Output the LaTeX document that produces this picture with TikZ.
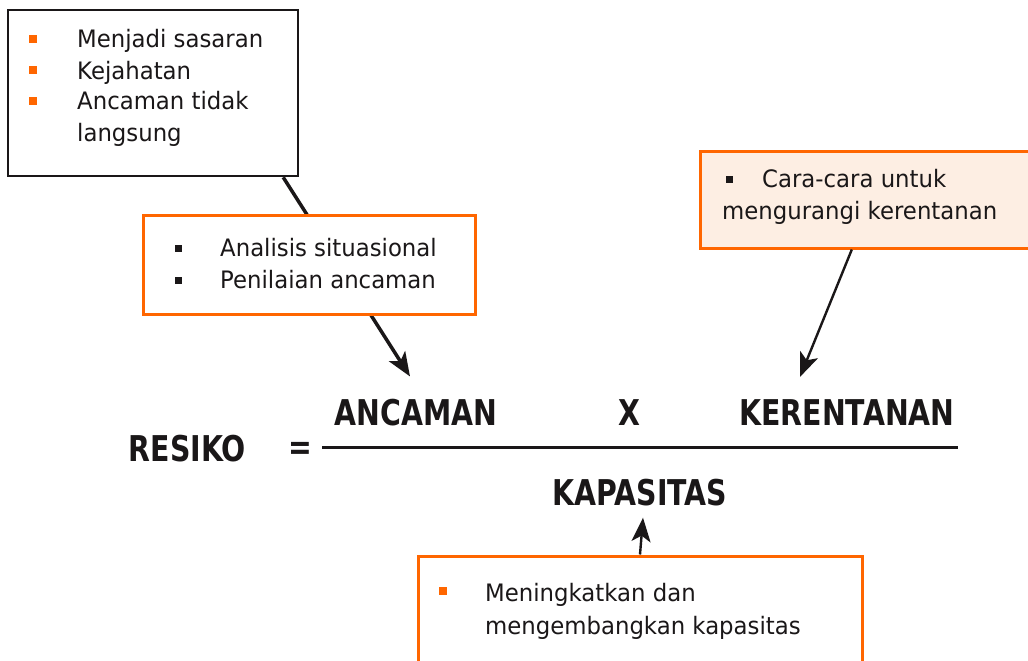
\documentclass[tikz,border=0pt]{standalone}
\usepackage{fontspec}
\setmainfont{DejaVu Sans}
\newfontfamily\headfont{DejaVu Sans}[FakeStretch=0.8]
\newfontfamily\bodyfont{DejaVu Sans}[FakeStretch=0.95]
\usetikzlibrary{arrows.meta,calc}
\definecolor{orng}{HTML}{FF6600}
\definecolor{peach}{HTML}{FDEEE3}
\definecolor{ink}{HTML}{1A1718}
\tikzset{
  line/.style={anchor=base west, inner sep=0pt, text=ink, font=\bodyfont\fontsize{24}{28}\selectfont},
  head/.style={anchor=base, inner sep=0pt, text=ink, font=\headfont\bfseries\fontsize{35.5}{40}\selectfont},
  obul/.style={fill=orng, minimum size=7.5pt, inner sep=0pt},
  kbul/.style={fill=ink, minimum size=7pt, inner sep=0pt},
  blackbox/.style={draw=ink, line width=2.6pt, fill=white, inner sep=0pt},
  orbox/.style={draw=orng, line width=3pt, fill=white, inner sep=0pt},
  peachbox/.style={orbox, fill=peach},
  arr/.style={draw=ink, -{Stealth[length=24pt, width=19pt, inset=6pt]}},
}
\begin{document}
\begin{tikzpicture}[x=1pt,y=-1pt]
\useasboundingbox (0,0) rectangle (1028,661);
\clip (0,0) rectangle (1028,661);

% box 1 (black)
\node[blackbox, minimum width=290pt, minimum height=166pt] (b1) at (153,93) {};
\node[obul] (b1p1) at (33,39) {};
\node[obul] (b1p2) at (33,70) {};
\node[obul] (b1p3) at (33,101) {};
\node[line] (b1t1) at (77,48) {Menjadi sasaran};
\node[line] (b1t2) at (77,79) {Kejahatan};
\node[line] (b1t3) at (77,110) {Ancaman tidak};
\node[line] (b1t4) at (77,141) {langsung};

% formula
\node[head] (resiko) at (187.5,461.5) {RESIKO};
\node[head, anchor=center] (eq) at (300,451) {=};
\coordinate (fl) at (322,447);
\coordinate (fr) at (958,447);
\draw[ink, line width=3pt] (fl) -- (fr);
\node[head] (ancaman) at (416,425) {ANCAMAN};
\node[head] (kali) at (629.5,425) {X};
\node[head] (kerentanan) at (847,425) {KERENTANAN};
\node[head] (kapasitas) at (640,505) {KAPASITAS};

% arrow from box 1 to ANCAMAN (behind box 2)
\coordinate (a1end) at ($(ancaman.north)+(-6,-22)$);
\draw[arr, line width=3.5pt] ($(b1.south west)!0.945!(b1.south east)$) -- (a1end);

% box 2
\node[orbox, minimum width=332pt, minimum height=99pt] (b2) at (309,264.5) {};
\node[kbul] (b2p1) at (178,248) {};
\node[kbul] (b2p2) at (178,280) {};
\node[line] (b2t1) at (220,256) {Analisis situasional};
\node[line] (b2t2) at (220,288) {Penilaian ancaman};

% box 3
\node[peachbox, minimum width=340pt, minimum height=97pt] (b3) at (870,199.5) {};
\node[kbul] (b3p1) at (729,179) {};
\node[line] (b3t1) at (762,187) {Cara-cara untuk};
\node[line] (b3t2) at (722,219) {mengurangi kerentanan};
\coordinate (a2end) at ($(kerentanan.north)+(-47,-22)$);
\draw[arr, line width=2.4pt] ($(b3.south west)!0.447!(b3.south east)$) -- (a2end);

% box 4
\node[orbox, minimum width=444pt, minimum height=130pt] (b4) at (640,621) {};
\node[obul] (b4p1) at (443,591) {};
\node[line] (b4t1) at (485,601) {Meningkatkan dan};
\node[line] (b4t2) at (485,634) {mengembangkan kapasitas};
\coordinate (a3end) at ($(kapasitas.south)+(3,12)$);
\draw[arr, line width=2.4pt] (b4.north) -- (a3end);
\end{tikzpicture}
\end{document}
